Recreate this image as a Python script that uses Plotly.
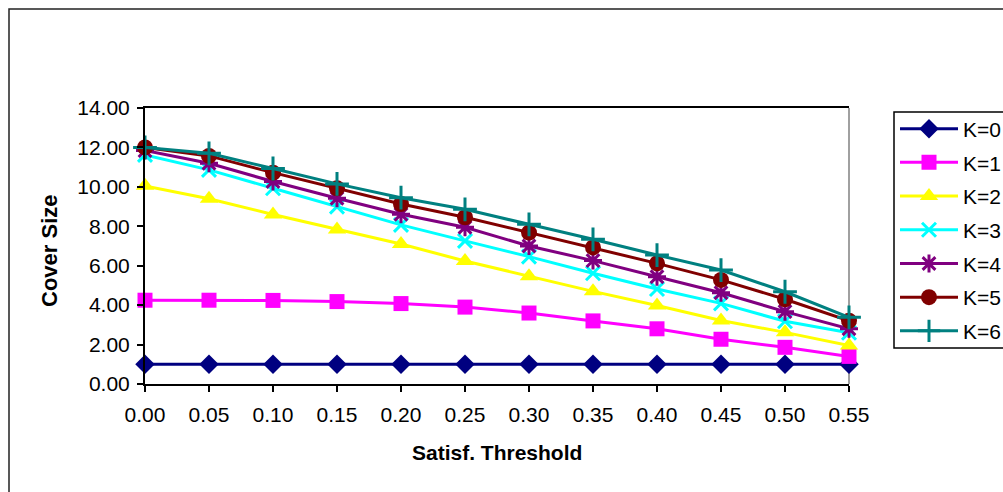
import plotly.graph_objects as go

thresholds = [0.00, 0.05, 0.10, 0.15, 0.20, 0.25, 0.30, 0.35, 0.40, 0.45, 0.50, 0.55]
tick_labels = ["0.00", "0.05", "0.10", "0.15", "0.20", "0.25", "0.30", "0.35", "0.40", "0.45", "0.50", "0.55"]
y_ticks = [0, 2, 4, 6, 8, 10, 12, 14]
y_tick_labels = ["0.00", "2.00", "4.00", "6.00", "8.00", "10.00", "12.00", "14.00"]

k0 = [1.00, 1.00, 1.00, 1.00, 1.00, 1.00, 1.00, 1.00, 1.00, 1.00, 1.00, 1.00]
k1 = [4.25, 4.25, 4.24, 4.18, 4.08, 3.90, 3.60, 3.20, 2.80, 2.27, 1.86, 1.40]
k2 = [10.05, 9.40, 8.60, 7.84, 7.10, 6.24, 5.46, 4.70, 3.98, 3.22, 2.62, 1.95]
k3 = [11.62, 10.86, 9.93, 9.00, 8.07, 7.26, 6.46, 5.62, 4.82, 4.09, 3.18, 2.60]
k4 = [11.84, 11.20, 10.27, 9.42, 8.61, 7.95, 7.00, 6.26, 5.44, 4.63, 3.67, 2.80]
k5 = [12.00, 11.57, 10.72, 9.93, 9.13, 8.46, 7.68, 6.93, 6.12, 5.28, 4.30, 3.21]
k6 = [12.00, 11.70, 10.93, 10.15, 9.45, 8.86, 8.10, 7.34, 6.54, 5.78, 4.68, 3.38]

series_names = ["K=0", "K=1", "K=2", "K=3", "K=4", "K=5", "K=6"]
series_values = [k0, k1, k2, k3, k4, k5, k6]
colors = ["#000080", "#FF00FF", "#FFFF00", "#00FFFF", "#800080", "#800000", "#008080"]
symbols = ["diamond", "square", "triangle-up", "x-thin-open", "asterisk-open", "circle", "cross-thin-open"]
sizes = [15, 15, 16, 14, 15, 16, 17]

W, H = 1003, 492
L, R, T, B = 145, 849, 108, 384
pw, ph = R - L, B - T

def px(x):
    return (x - L) / pw

def py(y):
    return (B - y) / ph

FONT = "Liberation Sans, Arial, sans-serif"

fig = go.Figure()
legend_top = 112
item_h = 33.7
for i, (name, vals) in enumerate(zip(series_names, series_values)):
    thin = symbols[i].endswith("open")
    marker = dict(symbol=symbols[i], size=sizes[i], color=colors[i],
                  line=dict(color=colors[i], width=3 if thin else 0))
    lg = "legend" if i == 0 else f"legend{i+1}"
    fig.add_trace(go.Scatter(
        x=thresholds, y=vals, name=name, mode="lines+markers",
        line=dict(color=colors[i], width=3), marker=marker,
        legend=lg, cliponaxis=False, showlegend=True,
    ))
    yc = legend_top + 17 + i * item_h
    fig.layout[lg] = dict(
        x=px(895), y=py(yc), xanchor="left", yanchor="middle",
        bgcolor="rgba(0,0,0,0)", borderwidth=0,
        font=dict(family=FONT, size=21, color="black"),
        itemwidth=58, tracegroupgap=0,
    )

fig.update_layout(
    width=W, height=H, showlegend=True,
    margin=dict(l=L, r=W - R, t=T, b=H - B, pad=0, autoexpand=False),
    paper_bgcolor="white", plot_bgcolor="white",
    font=dict(family=FONT, size=21, color="black"),
    xaxis=dict(
        range=[0, 0.55], tickvals=thresholds, ticktext=tick_labels,
        showgrid=False, zeroline=False, showline=True, linecolor="black", linewidth=2,
        mirror=True, ticks="outside", ticklen=6, tickwidth=1.5, tickcolor="black",
        ticklabelstandoff=5,
        tickfont=dict(family=FONT, size=21, color="black"),
    ),
    yaxis=dict(
        range=[0, 14], tickvals=y_ticks, ticktext=y_tick_labels,
        showgrid=False, zeroline=False, showline=True, linecolor="black", linewidth=2,
        ticks="outside", ticklen=6, tickwidth=1.5, tickcolor="black",
        ticklabelstandoff=3,
        tickfont=dict(family=FONT, size=21, color="black"),
    ),
    shapes=[
        # outer chart border
        dict(type="rect", xref="paper", yref="paper",
             x0=px(9), x1=px(1012), y0=py(502), y1=py(9),
             line=dict(color="#222222", width=1.5), fillcolor="rgba(0,0,0,0)", layer="below"),
        # right plot border (gray)
        dict(type="line", xref="paper", yref="paper", x0=1, x1=1, y0=0, y1=1,
             line=dict(color="#808080", width=1.5), layer="below"),
        # legend box
        dict(type="rect", xref="paper", yref="paper",
             x0=px(894), x1=px(1012), y0=py(348), y1=py(112),
             line=dict(color="black", width=1.5), fillcolor="rgba(0,0,0,0)"),
    ],
    annotations=[
        dict(text="<b>Satisf. Threshold</b>", xref="paper", yref="paper",
             x=px(497), y=py(452), xanchor="center", yanchor="middle", showarrow=False,
             font=dict(family=FONT, size=21, color="black")),
        dict(text="<b>Cover Size</b>", xref="paper", yref="paper",
             x=px(49), y=py(251), xanchor="center", yanchor="middle", showarrow=False,
             textangle=-90, font=dict(family=FONT, size=22, color="black")),
    ],
)

fig.write_html("out.html")
